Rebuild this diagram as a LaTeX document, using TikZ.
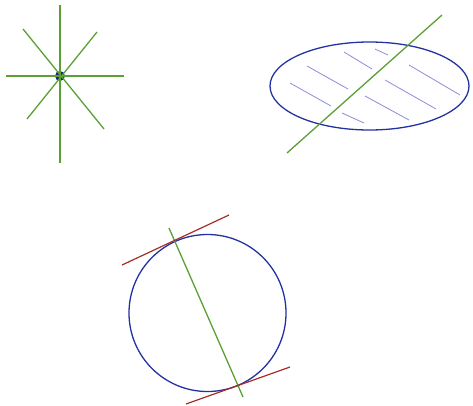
\documentclass[tikz,border=0pt]{standalone}
\definecolor{lngreen}{RGB}{90,160,50}
\definecolor{lnblue}{RGB}{35,50,160}
\definecolor{lnred}{RGB}{165,45,40}
\definecolor{lnhatch}{RGB}{140,140,220}
\definecolor{dotblue}{RGB}{25,40,120}
\begin{document}
\begin{tikzpicture}[x=1pt,y=-1pt,
  greenln/.style={draw=lngreen, line width=1.3pt},
  blueln/.style={draw=lnblue, line width=1.3pt},
  redln/.style={draw=lnred, line width=1.2pt},
  hatchln/.style={draw=lnhatch, line width=0.8pt}]
\useasboundingbox (0,0) rectangle (473,405);
% star
\fill[dotblue] (60,76) circle (5);
\draw[greenln] (60,5) -- (60,163);
\draw[greenln] (6,76) -- (124,76);
\draw[greenln] (23,29) -- (104,129);
\draw[greenln] (97,32) -- (27,119);
% ellipse
\draw[hatchln] (375,49) -- (388,55);
\draw[hatchln] (344,52) -- (372,69);
\draw[hatchln] (307,66) -- (348,89);
\draw[hatchln] (409,65) -- (460,95);
\draw[hatchln] (385,80) -- (436,109);
\draw[hatchln] (290,83) -- (331,106);
\draw[hatchln] (365,96) -- (409,120);
\draw[hatchln] (342,113) -- (364,123);
\draw[blueln] (369.5,86) ellipse [x radius=99.5, y radius=44];
\draw[greenln] (287,153) -- (442,15);
% circle
\draw[blueln] (207.5,313) circle (78.5);
\draw[greenln] (169,228) -- (243,397);
\draw[redln] (122,265) -- (229,215);
\draw[redln] (186,404) -- (290,367);
\end{tikzpicture}
\end{document}
